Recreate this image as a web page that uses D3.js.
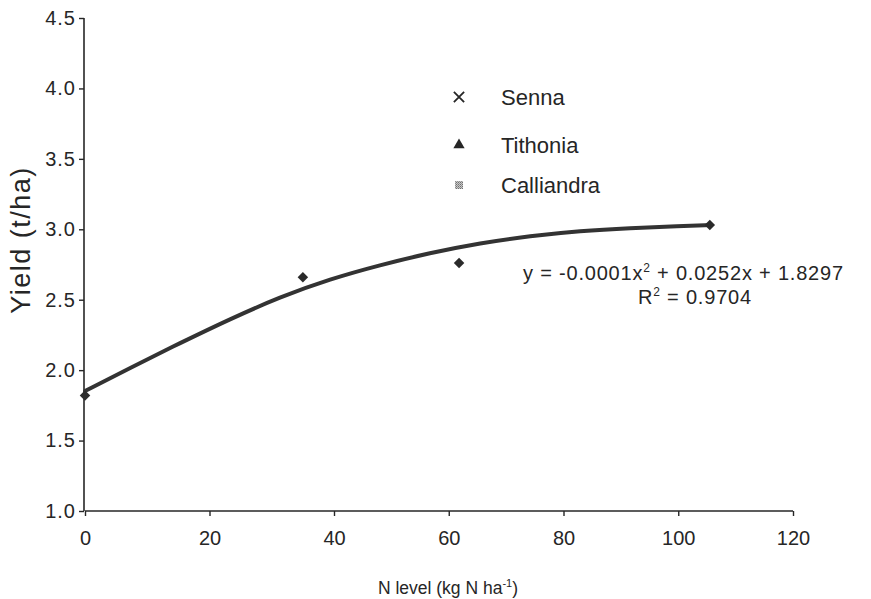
<!DOCTYPE html>
<html><head><meta charset="utf-8">
<script src="https://cdn.jsdelivr.net/npm/d3@7"></script>
<style>
html,body{margin:0;padding:0;background:#ffffff;}
svg{display:block;font-family:"Liberation Sans",Arial,sans-serif;}
</style></head>
<body><svg id="c" width="871" height="599"></svg>
<script>
// observed points (N level, yield)
const nLevels = [0, 35, 61.8, 105.5];
const yields  = [1.82, 2.66, 2.76, 3.03];
// trend line
const trendX = [0, 7.2, 15.3, 23.3, 31.3, 39.4, 48.0, 56.7, 65.5, 74.2, 82.9, 91.6, 100.3, 105.5];
const trendY = [1.852, 2.015, 2.193, 2.363, 2.519, 2.647, 2.746, 2.832, 2.903, 2.952, 2.988, 3.009, 3.023, 3.030];
const xTicks = [0, 20, 40, 60, 80, 100, 120];
const yTicks = [1.0, 1.5, 2.0, 2.5, 3.0, 3.5, 4.0, 4.5];
const legendNames = ["Senna", "Tithonia", "Calliandra"];

const svg = d3.select("#c");
const ink = "#262626";

const x = d3.scaleLinear().domain([0, 40, 120]).range([85, 334, 793]);
const y = d3.scaleLinear().domain([1, 4.5]).range([511, 18]);

// pattern for Calliandra marker
const defs = svg.append("defs");
const pat = defs.append("pattern").attr("id","dots").attr("width",2).attr("height",2).attr("patternUnits","userSpaceOnUse");
pat.append("rect").attr("width",2).attr("height",2).attr("fill","#c8c8c8");
pat.append("rect").attr("width",1).attr("height",1).attr("fill","#707070");
pat.append("rect").attr("x",1).attr("y",1).attr("width",1).attr("height",1).attr("fill","#909090");

// X axis
const xAxis = d3.axisBottom(x).tickValues(xTicks).tickFormat(d3.format("d")).tickSize(5).tickPadding(15);
const gx = svg.append("g").attr("transform", `translate(0,${y(1)})`).call(xAxis);
gx.select(".domain").attr("stroke", ink).attr("stroke-width", 1.6).attr("d", `M${x(0)},0H${x(120)}`);
gx.selectAll(".tick line").attr("stroke", ink).attr("stroke-width", 1.4);
gx.selectAll(".tick text").attr("fill", ink).attr("font-size", 20);

// Y axis
const yAxis = d3.axisLeft(y).tickValues(yTicks).tickFormat(d3.format(".1f")).tickSize(5).tickPadding(3);
const gy = svg.append("g").attr("transform", `translate(${x(0)-1},0)`).call(yAxis);
gy.select(".domain").attr("stroke", ink).attr("stroke-width", 1.6).attr("d", `M0,${y(4.5)}V${y(1)}`);
gy.selectAll(".tick line").attr("stroke", ink).attr("stroke-width", 1.4);
gy.selectAll(".tick text").attr("fill", ink).attr("font-size", 20).attr("letter-spacing", 1);

// axis titles
svg.append("text").attr("transform", `translate(30,240) rotate(-90)`)
  .attr("text-anchor","middle").attr("font-size", 27).attr("letter-spacing", 1.5).attr("fill", ink).text("Yield (t/ha)");
const xt = svg.append("text").attr("x", 448).attr("y", 594).attr("text-anchor","middle")
  .attr("font-size", 17.5).attr("fill", ink);
xt.append("tspan").text("N level (kg N ha");
xt.append("tspan").attr("font-size", 11).attr("dy", -7).text("-1");
xt.append("tspan").attr("dy", 7).text(")");

// trend line
const trend = trendX.map((v,i)=>[v, trendY[i]]);
svg.append("path").datum(trend)
  .attr("fill","none").attr("stroke","#333").attr("stroke-width",4).attr("stroke-linecap","round")
  .attr("d", d3.line().x(d=>x(d[0])).y(d=>y(d[1])).curve(d3.curveBasis));

// diamonds
const diamond = d3.symbol().type(d3.symbolSquare).size(55);
svg.append("g").selectAll("path").data(nLevels.map((v,i)=>[v, yields[i]])).join("path")
  .attr("d", diamond)
  .attr("transform", d=>`translate(${x(d[0])},${y(d[1])}) rotate(45)`)
  .attr("fill", "#2a2a2a");

// legend
const legY = [97, 145, 185];
const lg = svg.append("g");
lg.append("path").attr("d", d3.symbol().type(d3.symbolTimes).size(70)())
  .attr("transform", `translate(459,${legY[0]})`).attr("stroke", ink).attr("stroke-width", 1.8).attr("fill","none");
lg.append("path").attr("d", d3.symbol().type(d3.symbolTriangle).size(55)())
  .attr("transform", `translate(459,${legY[1]})`).attr("fill", ink);
lg.append("rect").attr("x", 455).attr("y", legY[2]-4).attr("width", 8).attr("height", 8).attr("fill", "url(#dots)");
lg.selectAll("text.l").data(legendNames).join("text").attr("class","l")
  .attr("x", 501).attr("y", (d,i)=>legY[i]+8).attr("font-size", 22).attr("fill", ink).text(d=>d);

// equation
const eq = svg.append("text").attr("x", 523).attr("y", 280).attr("font-size", 20).attr("letter-spacing", 0.8).attr("fill", ink);
eq.append("tspan").text("y = -0.0001x");
eq.append("tspan").attr("font-size", 12).attr("dy", -8).text("2");
eq.append("tspan").attr("dy", 8).text(" + 0.0252x + 1.8297");
const r2 = svg.append("text").attr("x", 638).attr("y", 304).attr("font-size", 20).attr("letter-spacing", 0.8).attr("fill", ink);
r2.append("tspan").text("R");
r2.append("tspan").attr("font-size", 12).attr("dy", -8).text("2");
r2.append("tspan").attr("dy", 8).text(" = 0.9704");
</script></body></html>
